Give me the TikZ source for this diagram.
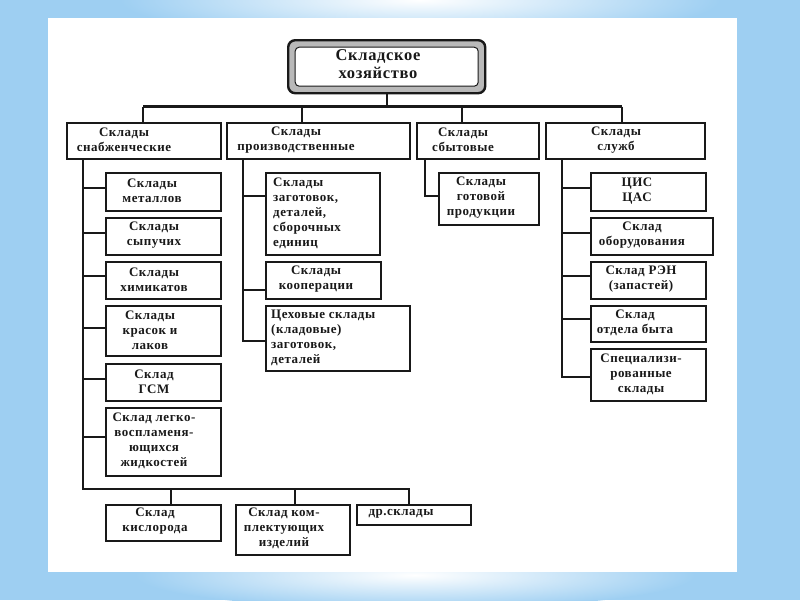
\documentclass[tikz,border=0pt]{standalone}
\usepackage{fontspec}
\setmainfont{Liberation Serif}
\newfontfamily\rf[LetterSpace=4]{Liberation Serif}
\usetikzlibrary{calc}
\definecolor{bgblue}{RGB}{158,207,242}
\definecolor{ink}{RGB}{25,25,25}
\begin{document}
\begin{tikzpicture}[x=1pt,y=-1pt,
  lone/.style={draw=ink, line width=2.4pt, fill=white, inner sep=0pt, anchor=north west, minimum height=36pt},
  ltwo/.style={draw=ink, line width=1.8pt, fill=white, inner sep=0pt, anchor=north west},
  txt/.style={text=ink, font=\rf\bfseries\fontsize{13}{15}\selectfont, align=center, inner sep=0pt},
  txtl/.style={txt, align=left, anchor=west},
  conn/.style={draw=ink, line width=1.7pt},
  busline/.style={draw=ink, line width=2.4pt}]
\useasboundingbox (0,0) rectangle (800,600);
% background
\fill[bgblue] (0,0) rectangle (800,600);
\shade[inner color=white, outer color=bgblue] (420,0) ellipse (300 and 40);
\shade[inner color=white, outer color=bgblue] (415,575) ellipse (280 and 34);
\fill[white] (48,18) rectangle (737,572);

% root
\node[draw=ink, line width=2.4pt, rounded corners=7pt, fill=gray!55, minimum width=197pt, minimum height=53pt, anchor=north west, inner sep=0pt] (R) at (287,39) {};
\node[draw=ink, line width=1pt, rounded corners=4pt, fill=white, minimum width=183pt, minimum height=39pt, inner sep=0pt] (Ri) at (R.center) {};
\node[txt, font=\rf\bfseries\fontsize{16.5}{17.5}\selectfont] (Rt) at (378,64) {Складское\\хозяйство};

% level 1
\node[lone, minimum width=154pt] (A) at (66,122) {};
\node[lone, minimum width=183pt] (B) at (226,122) {};
\node[lone, minimum width=122pt] (C) at (416,122) {};
\node[lone, minimum width=159pt] (D) at (545,122) {};
\node[txt] (At) at (124,140) {Склады\\снабженческие};
\node[txt] (Bt) at (296,140) {Склады\\производственные};
\node[txt] (Ct) at (463,140) {Склады\\сбытовые};
\node[txt] (Dt) at (616,140) {Склады\\служб};

% column A
\node[ltwo, minimum width=115pt, minimum height=38pt] (a1) at (105,172) {};
\node[ltwo, minimum width=115pt, minimum height=37pt] (a2) at (105,217) {};
\node[ltwo, minimum width=115pt, minimum height=37pt] (a3) at (105,261) {};
\node[ltwo, minimum width=115pt, minimum height=50pt] (a4) at (105,305) {};
\node[ltwo, minimum width=115pt, minimum height=37pt] (a5) at (105,363) {};
\node[ltwo, minimum width=115pt, minimum height=68pt] (a6) at (105,407) {};
\node[ltwo, minimum width=115pt, minimum height=36pt] (a7) at (105,504) {};
\node[ltwo, minimum width=114pt, minimum height=50pt] (a8) at (235,504) {};
\node[ltwo, minimum width=114pt, minimum height=20pt] (a9) at (356,504) {};
\node[txt] (a1t) at (152,191) {Склады\\металлов};
\node[txt] (a2t) at (154,235.5) {Склады\\сыпучих};
\node[txt] (a3t) at (154,279.5) {Склады\\химикатов};
\node[txt] (a4t) at (150,330) {Склады\\красок и\\лаков};
\node[txt] (a5t) at (154,381.5) {Склад\\ГСМ};
\node[txt] (a6t) at (154,440.5) {Склад легко-\\воспламеня-\\ющихся\\жидкостей};
\node[txt] (a7t) at (155,521) {Склад\\кислорода};
\node[txt] (a8t) at (284,528) {Склад ком-\\плектующих\\изделий};
\node[txt] (a9t) at (401,514) {др.склады};

% column B
\node[ltwo, minimum width=114pt, minimum height=82pt] (b1) at (265,172) {};
\node[ltwo, minimum width=115pt, minimum height=37pt] (b2) at (265,261) {};
\node[ltwo, minimum width=144pt, minimum height=65pt] (b3) at (265,305) {};
\node[txtl] (b1t) at (273,213) {Склады\\заготовок,\\деталей,\\сборочных\\единиц};
\node[txt] (b2t) at (316,279.5) {Склады\\кооперации};
\node[txtl] (b3t) at (271,337.5) {Цеховые склады\\(кладовые)\\заготовок,\\деталей};

% column C
\node[ltwo, minimum width=100pt, minimum height=52pt] (c1) at (438,172) {};
\node[txt] (c1t) at (481,198) {Склады\\готовой\\продукции};

% column D
\node[ltwo, minimum width=115pt, minimum height=38pt] (d1) at (590,172) {};
\node[ltwo, minimum width=122pt, minimum height=37pt] (d2) at (590,217) {};
\node[ltwo, minimum width=115pt, minimum height=37pt] (d3) at (590,261) {};
\node[ltwo, minimum width=115pt, minimum height=36pt] (d4) at (590,305) {};
\node[ltwo, minimum width=115pt, minimum height=52pt] (d5) at (590,348) {};
\node[txt] (d1t) at (637,191) {ЦИС\\ЦАС};
\node[txt] (d2t) at (642,235.5) {Склад\\оборудования};
\node[txt] (d3t) at (641,279.5) {Склад РЭН\\(запастей)};
\node[txt] (d4t) at (635,323) {Склад\\отдела быта};
\node[txt] (d5t) at (641,374) {Специализи-\\рованные\\склады};

% top bus
\coordinate (bus0) at (387,106.5);
\coordinate (dA) at (143,106.5);
\coordinate (dB) at (302,106.5);
\coordinate (dC) at (462,106.5);
\coordinate (dD) at (622,106.5);
\draw[busline] (R.south -| bus0) -- (bus0);
\draw[busline] (dA) -- (dD);
\draw[busline] (dA) -- (dA |- A.north);
\draw[busline] (dB) -- (dB |- B.north);
\draw[busline] (dC) -- (dC |- C.north);
\draw[busline] (dD) -- (dD |- D.north);

% column A connectors
\coordinate (tA) at (83,489);
\coordinate (e1) at (171,489);
\coordinate (e2) at (295,489);
\coordinate (e3) at (409,489);
\draw[conn] (tA |- A.south) -- (tA) -- (e3) -- (e3 |- a9.north);
\draw[conn] (e1) -- (e1 |- a7.north);
\draw[conn] (e2) -- (e2 |- a8.north);
\foreach \n/\dy in {a1/16,a2/16,a3/15,a4/23,a5/16,a6/30}
  \draw[conn] ([yshift=-\dy pt]\n.north west) coordinate (p) -- (p -| tA);

% column B connectors
\coordinate (tB) at (243,341);
\draw[conn] (tB |- B.south) -- (tB) -- (tB -| b3.west);
\draw[conn] ([yshift=-24pt]b1.north west) coordinate (q1) -- (q1 -| tB);
\draw[conn] ([yshift=-29pt]b2.north west) coordinate (q2) -- (q2 -| tB);

% column C connectors
\coordinate (tC) at (425,0);
\draw[conn] (tC |- C.south) |- ([yshift=-24pt]c1.north west);

% column D connectors
\coordinate (tD) at (562,0);
\draw[conn] (tD |- D.south) |- ([yshift=-29pt]d5.north west);
\foreach \n/\dy in {d1/16,d2/16,d3/15,d4/14}
  \draw[conn] ([yshift=-\dy pt]\n.north west) coordinate (p) -- (p -| tD);
\end{tikzpicture}
\end{document}
